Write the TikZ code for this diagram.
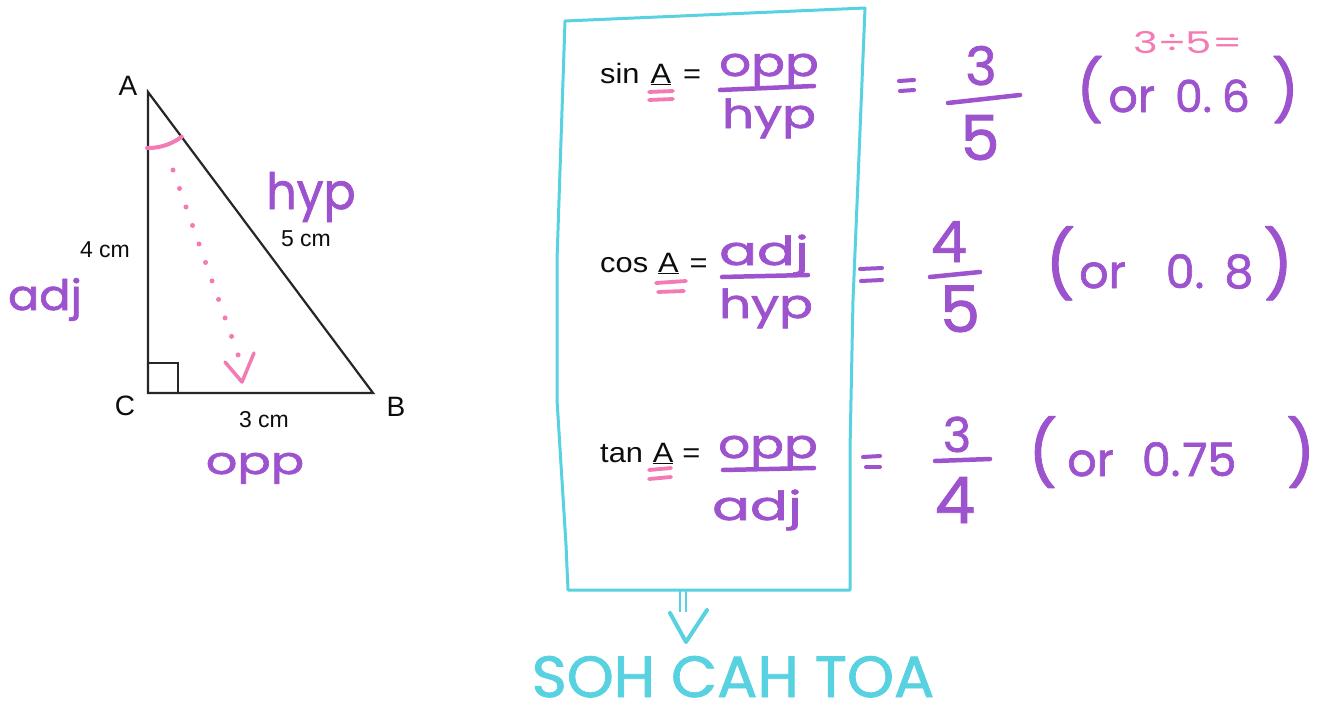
\documentclass[tikz,border=0pt]{standalone}
\usepackage{fontspec}
\setmainfont{Liberation Sans}
\newfontfamily\hand{Poppins}[FakeBold=1.4]
\newfontfamily\handthin{Poppins}
\definecolor{hpurple}{HTML}{9D52CE}
\definecolor{hpink}{HTML}{F47AB3}
\definecolor{hcyan}{HTML}{58D2E0}
\newcommand{\fs}[1]{\fontsize{#1}{#1}\selectfont}
\tikzset{
  printed/.style={font=\fs{#1}, text=black!95, inner sep=0pt},
  purp/.style={font=\hand\fs{#1}, text=hpurple, inner sep=0pt, anchor=base},
  pinktext/.style={font=\handthin\fs{#1}, text=hpink, inner sep=0pt, anchor=base},
  cyantext/.style={font=\hand\fs{#1}, text=hcyan, inner sep=0pt, anchor=base},
  eqtext/.style={font=\fs{28}, text=black!95, inner sep=0pt, anchor=base west, xscale=1.1},
  bar/.style={draw=hpurple, line width=4.5pt, line cap=round},
  pinkeq/.style={draw=hpink, line width=3.8pt, line cap=round},
  purpeq/.style={draw=hpurple, line width=4pt, line cap=round},
  side/.style={draw=black!85, line width=2.2pt, line join=miter},
  boxline/.style={draw=hcyan, line width=3pt, line join=round, line cap=round},
}
\begin{document}
\begin{tikzpicture}[x=1pt,y=-1pt]
\useasboundingbox[fill=white] (0,0) rectangle (1327,717);

% ---------- triangle ----------
\coordinate (A) at (148,92);
\coordinate (C) at (148,393);
\coordinate (B) at (373,393);
\draw[side] (A) -- (C) -- (B) -- cycle;
\draw[draw=black!85, line width=1.8pt] (148,363) -- (178,363) -- (178,393);

\node[printed=28] (lA) at (128,86) {A};
\node[printed=28] (lC) at (125,406) {C};
\node[printed=28] (lB) at (396,407) {B};
\node[printed=23] (l4) at (105,250) {4 cm};
\node[printed=23] (l5) at (306,239) {5 cm};
\node[printed=23] (l3) at (264,420) {3 cm};

\node[purp=50, xscale=0.95] (hyp) at (311,209) {hyp};
\node[purp=42, xscale=1.1] (adj) at (45,310) {adj};
\node[purp=38, xscale=1.3] (opp) at (255,474) {opp};

% angle arc at A
\draw[draw=hpink, line width=4pt, line cap=round] plot[domain=53:91, samples=30] ({148+56*cos(\x)},{92+56*sin(\x)});
% dotted arrow
\coordinate (dotS) at (173,170);
\coordinate (dotE) at (242,366);
\draw[draw=hpink, line width=5pt, line cap=round, dash pattern=on 0pt off 19.6pt] (dotS) -- (dotE);
\draw[draw=hpink, line width=3.5pt, line cap=round, line join=round] (225,362) -- (242,382) -- (254,353);

% ---------- box ----------
\draw[boxline] (565,21) -- (865,8) -- (858,180) -- (853,300) -- (850,450) -- (850,590) -- (568,590) -- (566,545) -- (557,400) -- (557,260) -- cycle;

% sin row
\node[eqtext] (sinA) at (600,83) {sin\hspace{10pt}\underline{A}\hspace{11pt}=};
\draw[pinkeq] (649,92) -- (673,91);
\draw[pinkeq] (649,100) -- (673,99);
\node[purp=40, xscale=1.25] (sinN) at (769,76) {opp};
\draw[bar] (720,90) -- (814,86);
\node[purp=40, xscale=1.25] (sinD) at (769,128) {hyp};
\draw[purpeq] (899,81) -- (914,80);
\draw[purpeq] (900,91) -- (914,90);
\node[purp=53] (s3) at (981,85) {3};
\draw[bar] (948,103) -- (1020,95);
\node[purp=62] (s5) at (980,160) {5};
\node[pinktext=30, xscale=1.4] (sdiv) at (1188,53) {3÷5=};
\node[purp=46, anchor=base west] (s06) at (1076,112) {{\fs{60}(}\hspace{5pt}or\hspace{20pt}{\fs{44}0.\hspace{10pt}6}\hspace{22pt}{\fs{60})}};

% cos row
\node[eqtext] (cosA) at (600,272) {cos\hspace{9pt}\underline{A}\hspace{10pt}=};
\draw[pinkeq] (656,283) -- (686,281);
\draw[pinkeq] (658,292) -- (684,291);
\node[purp=40, xscale=1.4] (cosN) at (764,265) {adj};
\draw[bar] (722,277) -- (808,275);
\node[purp=40, xscale=1.25] (cosD) at (766,318) {hyp};
\draw[purpeq] (860,269) -- (882,268);
\draw[purpeq] (861,281) -- (882,280);
\node[purp=57] (c4) at (949,262) {4};
\draw[bar] (930,277) -- (980,272);
\node[purp=64] (c5) at (960,332) {5};
\node[purp=46, anchor=base west] (c08) at (1045,288) {{\fs{66}(}\hspace{4pt}or\hspace{40pt}{\fs{46}0.\hspace{20pt}8}\hspace{10pt}{\fs{66})}};

% tan row
\node[eqtext] (tanA) at (600,462) {tan\hspace{9pt}\underline{A}\hspace{8pt}=};
\draw[pinkeq] (649,470) -- (671,468);
\draw[pinkeq] (649,479) -- (671,477);
\node[purp=40, xscale=1.25] (tanN) at (768,458) {opp};
\draw[bar] (723,470) -- (814,468);
\node[purp=40, xscale=1.4] (tanD) at (757,520) {adj};
\draw[purpeq] (863,457) -- (880,456);
\draw[purpeq] (866,467) -- (880,467);
\node[purp=48] (t3) at (957,452) {3};
\draw[bar] (935,461) -- (990,459);
\node[purp=64] (t4) at (955,523) {4};
\node[purp=46, anchor=base west] (t075) at (1028,476) {{\fs{64}(}\hspace{10pt}or\hspace{28pt}{\fs{46}0.\hspace{2pt}75}\hspace{50pt}{\fs{64})}};

% ---------- arrow to SOH CAH TOA ----------
\node[cyantext=58, xscale=1.03] (soh) at (733,697) {SOH CAH TOA};
\coordinate (boxbot) at (683,590);
\coordinate (arrtip) at (686,642);
\draw[draw=hcyan, line width=2.5pt] ([xshift=-3pt]boxbot) -- ++(0,22);
\draw[draw=hcyan, line width=2.5pt] ([xshift=3pt]boxbot) -- ++(0,22);
\draw[draw=hcyan, line width=4pt, line cap=round, line join=round] (670,613) -- (arrtip) -- (707,610);
\end{tikzpicture}
\end{document}
